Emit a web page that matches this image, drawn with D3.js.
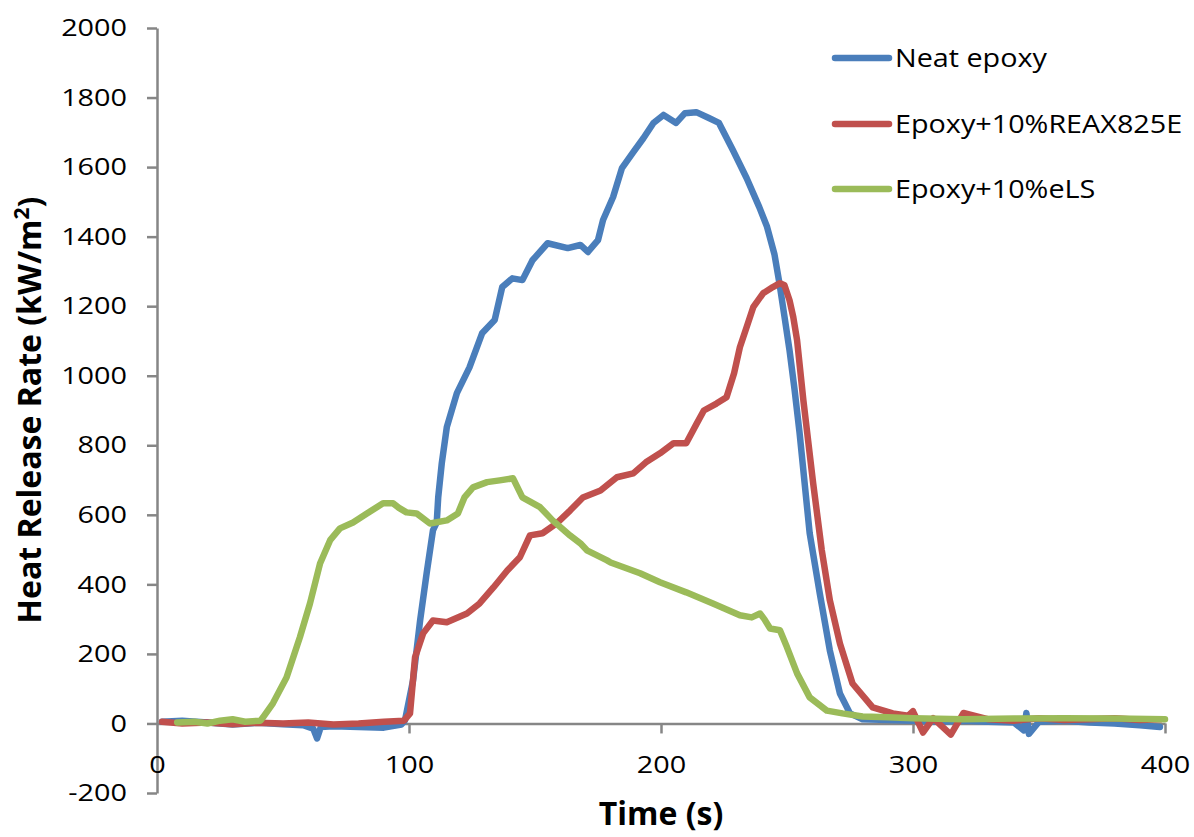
<!DOCTYPE html>
<html>
<head>
<meta charset="utf-8">
<script src="https://cdn.jsdelivr.net/npm/d3@7"></script>
<style>
  html, body { margin: 0; padding: 0; background: #fff; }
  svg { display: block; }
  text { font-family: "Open Sans", "Noto Sans", sans-serif; fill: #000; }
</style>
</head>
<body>
<svg id="chart" width="1194" height="837"></svg>
<script>
// ---- Data ----
const seriesNames = ["Neat epoxy", "Epoxy+10%REAX825E", "Epoxy+10%eLS"];
const seriesColors = ["#4A7EBB", "#C0504D", "#9BBB59"];

const neatT = [2,10,20,30,40,50,58,62,63.5,65,70,80,90,97,98.4,101.6,104.4,107,109.5,111,111.6,113,115,119,124,129,134,137,141,145,149,155,163,168,171,175,177,181,184.5,189,193,197,201,206,209.5,214,219,223,228.5,234,239,242,245,247,249,251,253,255,259,263,267,271,275,280,290,300,310,320,330,340,344,345,346,350,360,370,380,390,398];
const neatV = [5,8,3,-3,2,-2,-5,-15,-43,-10,-8,-10,-12,-3,9,124,296,432,555,578,651,748,852,950,1024,1122,1160,1255,1280,1275,1332,1381,1367,1376,1356,1390,1448,1514,1597,1643,1683,1727,1750,1727,1755,1758,1741,1727,1649,1568,1485,1430,1350,1266,1170,1073,960,835,547,374,210,86,29,12,10,8,5,8,5,3,-20,30,-30,5,8,3,0,-5,-10];

const reaxT = [2,10,20,30,40,50,60,70,80,90,98,100.4,102.4,105.6,109.5,115,123,128,133.5,139,144,148,153,158.7,164,169,176,182.5,189,194,199.6,205,210,214,217,222,226,229,231.3,234,236.6,240.5,244.4,247.2,249,251,252.5,254,256.5,260.4,263.8,267,271,276,284,292,298,300,304,308,315,320,330,340,350,360,370,380,390,398];
const reaxV = [5,0,3,-2,2,0,3,-3,0,5,8,29,190,259,296,291,316,345,391,440,478,541,547,576,613,650,670,708,719,751,777,806,806,860,900,920,938,1007,1082,1140,1197,1237,1255,1266,1260,1217,1168,1102,929,690,498,354,230,115,46,29,22,35,-26,15,-32,30,12,8,15,10,12,15,10,12,8];

const elsT = [8,15,20,25,30,35,41,42,46,51.4,56.7,60.7,64.7,68.7,72.6,77.8,83.3,89.7,93.7,96,99,103,108.3,115,119.4,122,125.4,131,136,141.3,145,152,157,164,168,170.6,178.6,180,191.7,199.6,210,220.6,231.3,236,239.3,241,243.3,247.2,250,254,259,265.8,272,280,290,300,320,340,360,380,400];
const elsV = [3,5,0,8,12,5,8,17,58,132,248,345,460,527,561,578,604,633,633,620,607,604,575,584,604,650,679,694,699,705,650,622,584,540,518,498,469,463,432,406,377,345,311,305,316,300,273,268,219,144,75,37,29,20,18,15,12,14,15,14,12];

const xTicks = [0,100,200,300,400];
const yTicks = [-200,0,200,400,600,800,1000,1200,1400,1600,1800,2000];

// ---- Drawing ----
const svg = d3.select("#chart");
const x = d3.scaleLinear().domain([0, 400]).range([157, 1165]);
const y = d3.scaleLinear().domain([-200, 2000]).range([793, 28]);
const axisColor = "#868686";
const stretch = 1.2;

// Y axis
const yAxis = svg.append("g")
  .attr("transform", `translate(${x(0)},0)`)
  .call(d3.axisLeft(y).tickValues(yTicks).tickSize(10).tickSizeOuter(0).tickPadding(20).tickFormat(d => String(d)));
yAxis.selectAll("path, line").attr("stroke", axisColor).attr("stroke-width", 2.5);
yAxis.selectAll("text")
  .attr("font-size", 24).attr("font-family", "'Open Sans', sans-serif").attr("fill", "#000")
  .attr("x", -30 / stretch).attr("transform", `scale(${stretch},1)`);

// X axis at y=0
const xAxis = svg.append("g")
  .attr("transform", `translate(0,${y(0)})`)
  .call(d3.axisBottom(x).tickValues(xTicks).tickSize(10).tickSizeOuter(0).tickPadding(23).tickFormat(d => String(d)));
xAxis.selectAll("path, line").attr("stroke", axisColor).attr("stroke-width", 2.5);
xAxis.selectAll("text")
  .attr("font-size", 24).attr("font-family", "'Open Sans', sans-serif").attr("fill", "#000")
  .attr("transform", `scale(${stretch},1)`);
xAxis.selectAll(".tick").filter(d => d === 0).select("line").remove();

// Lines
const seriesT = [neatT, reaxT, elsT];
const seriesV = [neatV, reaxV, elsV];
const line = d3.line().x(d => x(d[0])).y(d => y(d[1])).curve(d3.curveLinear);
[0, 1, 2].forEach(i => {
  const pts = seriesT[i].map((t, k) => [t, seriesV[i][k]]);
  svg.append("path")
    .datum(pts)
    .attr("d", line)
    .attr("fill", "none")
    .attr("stroke", seriesColors[i])
    .attr("stroke-width", 6.5)
    .attr("stroke-linejoin", "round")
    .attr("stroke-linecap", "round");
});

// Legend
const legendY = [58, 124, 189];
seriesNames.forEach((name, i) => {
  svg.append("line")
    .attr("x1", 835).attr("x2", 889)
    .attr("y1", legendY[i]).attr("y2", legendY[i])
    .attr("stroke", seriesColors[i]).attr("stroke-width", 6.5).attr("stroke-linecap", "round");
  svg.append("text")
    .attr("transform", `translate(895,${legendY[i]}) scale(1.15,1)`)
    .attr("dy", "0.35em")
    .attr("font-size", 25)
    .text(name);
});

// Axis titles
svg.append("text")
  .attr("x", 661).attr("y", 825)
  .attr("text-anchor", "middle")
  .attr("font-size", 32)
  .attr("font-weight", "bold")
  .text("Time (s)");

const yt = svg.append("text")
  .attr("transform", "translate(41,410) rotate(-90)")
  .attr("text-anchor", "middle")
  .attr("font-size", 32)
  .attr("font-weight", "bold");
yt.append("tspan").text("Heat Release Rate (kW/m");
yt.append("tspan").attr("font-size", 21).attr("dy", -12).text("2");
yt.append("tspan").attr("dy", 12).text(")");
</script>
</body>
</html>
